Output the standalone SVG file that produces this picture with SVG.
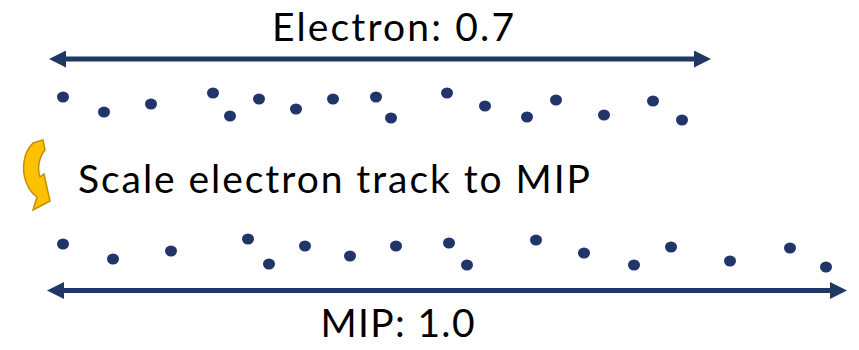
<svg xmlns="http://www.w3.org/2000/svg" width="859" height="350" viewBox="0 0 859 350">
<style>
.t{font-family:Lato,"Liberation Sans",sans-serif;font-size:39px;fill:#000}
.d{fill:#22356A}
.a{stroke:#1F3864;stroke-width:5;fill:none}
</style>
<defs>
<marker id="ah" markerUnits="userSpaceOnUse" viewBox="0 0 17 17" markerWidth="17" markerHeight="17" refX="7" refY="8.5" orient="auto-start-reverse">
<path d="M0,0 L17,8.5 L0,17 Z" fill="#1F3864"/>
</marker>
</defs>
<rect width="859" height="350" fill="#fff"/>
<g id="connectors">
<line class="a" x1="59" y1="59" x2="701" y2="59" marker-start="url(#ah)" marker-end="url(#ah)"/>
<line class="a" x1="57" y1="290.5" x2="837" y2="290.5" marker-start="url(#ah)" marker-end="url(#ah)"/>
</g>
<g id="electron-label"><text class="t" x="272" y="40.5" textLength="242">Electron: 0.7</text></g>
<g id="mip-label"><text class="t" x="320.5" y="337" textLength="154">MIP: 1.0</text></g>
<g id="scale-label"><text class="t" x="78" y="193" textLength="512">Scale electron track to MIP</text></g>
<g id="curved-arrow">
<path d="M33,143 L43,140 L45,150 C39,157 37,168 40,177 L44,174 L50,201 L33,210 L37,197 C27,190 22,175 24,162 C25,153 29,147 33,143 Z" fill="#FFC000" stroke="#BF9000" stroke-width="1.5" stroke-linejoin="miter"/>
</g>
<g id="electron-dots">
<ellipse class="d" cx="63" cy="97" rx="6" ry="5.5"/>
<ellipse class="d" cx="104" cy="112" rx="6" ry="5.5"/>
<ellipse class="d" cx="151" cy="104" rx="6" ry="5.5"/>
<ellipse class="d" cx="213" cy="93" rx="6" ry="5.5"/>
<ellipse class="d" cx="230" cy="116" rx="6" ry="5.5"/>
<ellipse class="d" cx="259" cy="99" rx="6" ry="5.5"/>
<ellipse class="d" cx="296" cy="109" rx="6" ry="5.5"/>
<ellipse class="d" cx="333" cy="99" rx="6" ry="5.5"/>
<ellipse class="d" cx="376" cy="97" rx="6" ry="5.5"/>
<ellipse class="d" cx="391" cy="118" rx="6" ry="5.5"/>
<ellipse class="d" cx="447" cy="93" rx="6" ry="5.5"/>
<ellipse class="d" cx="485" cy="106" rx="6" ry="5.5"/>
<ellipse class="d" cx="527" cy="117" rx="6" ry="5.5"/>
<ellipse class="d" cx="556" cy="100" rx="6" ry="5.5"/>
<ellipse class="d" cx="604" cy="115" rx="6" ry="5.5"/>
<ellipse class="d" cx="653" cy="101" rx="6" ry="5.5"/>
<ellipse class="d" cx="682" cy="120" rx="6" ry="5.5"/>
</g>
<g id="mip-dots">
<ellipse class="d" cx="63" cy="244" rx="6" ry="5.5"/>
<ellipse class="d" cx="113" cy="259" rx="6" ry="5.5"/>
<ellipse class="d" cx="171" cy="251" rx="6" ry="5.5"/>
<ellipse class="d" cx="248" cy="239" rx="6" ry="5.5"/>
<ellipse class="d" cx="269" cy="264" rx="6" ry="5.5"/>
<ellipse class="d" cx="305" cy="246" rx="6" ry="5.5"/>
<ellipse class="d" cx="350" cy="256" rx="6" ry="5.5"/>
<ellipse class="d" cx="396" cy="246" rx="6" ry="5.5"/>
<ellipse class="d" cx="449" cy="243" rx="6" ry="5.5"/>
<ellipse class="d" cx="467" cy="265" rx="6" ry="5.5"/>
<ellipse class="d" cx="536" cy="240" rx="6" ry="5.5"/>
<ellipse class="d" cx="584" cy="253" rx="6" ry="5.5"/>
<ellipse class="d" cx="634" cy="265" rx="6" ry="5.5"/>
<ellipse class="d" cx="671" cy="247" rx="6" ry="5.5"/>
<ellipse class="d" cx="730" cy="261" rx="6" ry="5.5"/>
<ellipse class="d" cx="790" cy="248" rx="6" ry="5.5"/>
<ellipse class="d" cx="826" cy="267" rx="6" ry="5.5"/>
</g>
</svg>
